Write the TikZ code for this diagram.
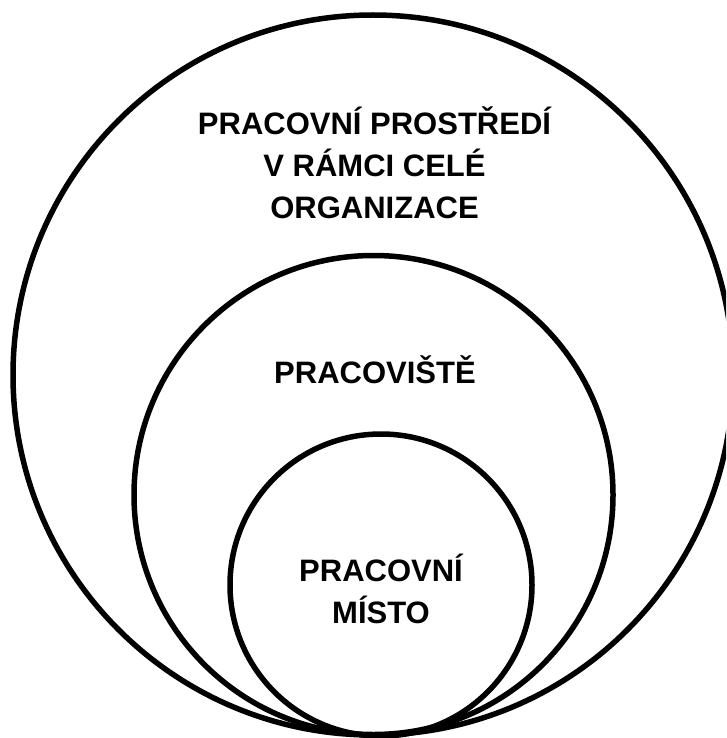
\documentclass[tikz,border=0pt]{standalone}
\usepackage{fontspec}
\setmainfont{Liberation Sans}
\begin{document}
\begin{tikzpicture}[x=1pt,y=-1pt,
  ring/.style={circle, draw=black, line width=5.5pt, inner sep=0pt, minimum size=#1},
  label/.style={font=\fontsize{31}{42}\selectfont\bfseries, align=center, anchor=base, inner sep=0pt}]
  \useasboundingbox (0,0) rectangle (726,738);
  \clip (0,0) rectangle (726,738);
  % three nested circles touching at the bottom
  \node[ring=720pt] (organizace) at (373,375) {};
  \node[ring=479pt] (pracoviste) at (373.5,495) {};
  \node[ring=302pt] (misto) at (381,585) {};
  % labels (anchored on the baseline of their last line)
  \node[label] (t1) at (374.5,218) {PRACOVNÍ PROSTŘEDÍ\\V RÁMCI CELÉ\\ORGANIZACE};
  \node[label] (t2) at (375,383) {PRACOVIŠTĚ};
  \node[label] (t3) at (381,623) {PRACOVNÍ\\MÍSTO};
\end{tikzpicture}
\end{document}
